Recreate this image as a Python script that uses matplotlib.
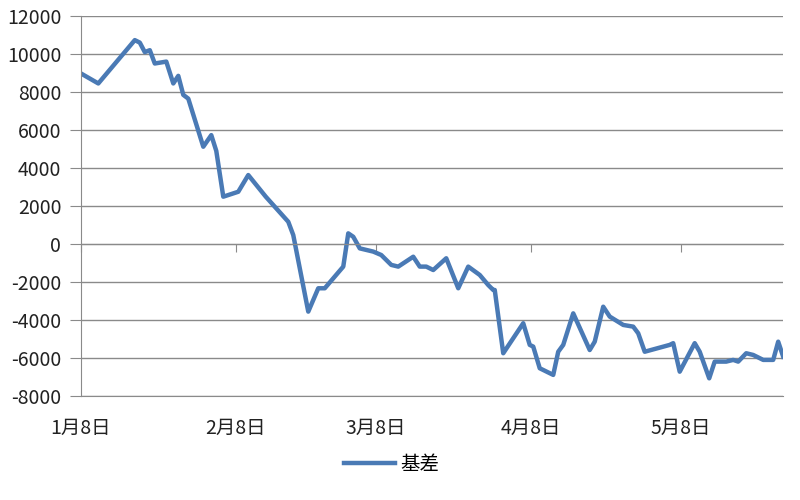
import matplotlib
matplotlib.use("Agg")
import matplotlib.pyplot as plt

plt.rcParams['font.family'] = ['Noto Sans CJK SC', 'DejaVu Sans']

# days after 1月8日, and 基差 values
days = [0, 3.5, 10.8, 11.8, 12.8, 13.8, 14.8, 17.1, 18.5, 19.5, 20.5, 21.5,
        24.5, 26.1, 27.1, 28.5, 31.5, 33.5, 37, 41.5, 42.5, 45.5, 47.5, 48.8,
        52.5, 53.5, 54.5, 55.8, 58.5, 60.1, 62.1, 63.5, 66.5, 67.8, 69.1, 70.5,
        73.1, 75.5, 77.5, 79.8, 81.5, 82.5, 82.8, 84.5, 88.5, 89.8, 90.5, 91.8,
        94.5, 95.5, 96.5, 98.5, 101.8, 102.8, 104.5, 105.8, 108.5, 110.5, 111.5,
        112.8, 117.8, 118.5, 119.8, 122.8, 123.8, 125.7, 126.8, 129.1, 130.5,
        131.5, 133.1, 134.5, 136.5, 138.5, 139.5, 140.5]
basis = [8980, 8450, 10730, 10600, 10100, 10200, 9500, 9600, 8450, 8850, 7850, 7650,
         5120, 5730, 4900, 2490, 2750, 3630, 2490, 1170, 470, -3560, -2330, -2330,
         -1190, 560, 380, -230, -400, -580, -1100, -1190, -670, -1190, -1190, -1370,
         -750, -2330, -1190, -1630, -2160, -2420, -2420, -5750, -4170, -5310, -5400, -6540,
         -6890, -5670, -5310, -3650, -5580, -5140, -3300, -3820, -4260, -4350, -4700,
         -5670, -5310, -5220, -6720, -5220, -5670, -7070, -6190, -6190, -6100,
         -6190, -5750, -5840, -6100, -6100, -5140, -5930]

tick_days = [0, 31, 59, 90, 120]
tick_labels = ['1月8日', '2月8日', '3月8日', '4月8日', '5月8日']
y_ticks = list(range(-8000, 12001, 2000))

grey = '#8a8a8a'

fig = plt.figure(figsize=(8, 5), dpi=100)
ax = fig.add_axes([0.101, 0.208, 0.878, 0.76])

ax.plot(days, basis, color='#4a7ab5', lw=3.2, solid_joinstyle='round', label='基差')

ax.set_xlim(0, 140.5)
ax.set_ylim(-8000, 12000)
ax.set_yticks(y_ticks)
ax.set_yticklabels([str(v) for v in y_ticks], fontsize=14, color='#222222')
ax.grid(axis='y', color=grey, lw=1)
ax.set_axisbelow(True)

for s in ['top', 'right']:
    ax.spines[s].set_visible(False)
ax.spines['left'].set_color(grey)
# horizontal axis crosses at 0, labels sit at the bottom
ax.spines['bottom'].set_position(('data', 0))
ax.spines['bottom'].set_color(grey)
ax.set_xticks(tick_days)
ax.tick_params(axis='x', direction='out', length=6, color=grey, labelbottom=False)
ax.tick_params(axis='y', direction='out', length=8, color=grey, pad=6)

sec = ax.secondary_xaxis(0.0)
sec.set_xticks(tick_days)
sec.set_xticklabels(tick_labels, fontsize=14, color='#222222')
sec.tick_params(length=0, pad=16)
sec.spines['bottom'].set_color(grey)

fig.legend(loc='lower center', bbox_to_anchor=(0.49, 0.015), frameon=False,
           fontsize=14, handlelength=2.6, handletextpad=0.3)

fig.savefig('out.png')
